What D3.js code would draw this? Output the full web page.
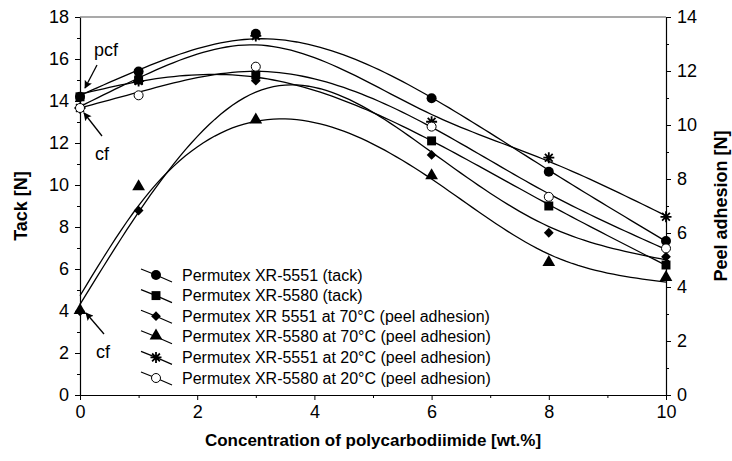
<!DOCTYPE html>
<html>
<head>
<meta charset="utf-8">
<script src="https://cdn.jsdelivr.net/npm/d3@7/dist/d3.min.js"></script>
<style>
html,body{margin:0;padding:0;background:#fff;}
svg{display:block;}
text{font-family:"Liberation Sans",Arial,sans-serif;fill:#000;}
</style>
</head>
<body>
<svg id="chart" width="732" height="461"></svg>
<script>
// ---- data ----
const concentrations = [0, 1, 3, 6, 8, 10];
const tack5551 = [14.2, 15.4, 17.2, 14.13, 10.63, 7.33];
const tack5580 = [14.2, 15.0, 15.24, 12.1, 9.0, 6.19];
const peel5551at70 = [3.1, 6.83, 11.64, 8.89, 6.01, 5.12];
const peel5580at70 = [3.1, 7.68, 10.15, 8.09, 4.88, 4.32];
const peel5551at20 = [10.63, 11.63, 13.3, 10.12, 8.79, 6.6];
const peel5580at20 = [10.63, 11.1, 12.16, 9.94, 7.34, 5.43];
const seriesNames = [
  "Permutex XR-5551 (tack)",
  "Permutex XR-5580 (tack)",
  "Permutex XR 5551 at 70°C (peel adhesion)",
  "Permutex XR-5580 at 70°C (peel adhesion)",
  "Permutex XR-5551 at 20°C (peel adhesion)",
  "Permutex XR-5580 at 20°C (peel adhesion)"
];
const xTicks = [0, 2, 4, 6, 8, 10];
const leftTicks = [0, 2, 4, 6, 8, 10, 12, 14, 16, 18];
const rightTicks = [0, 2, 4, 6, 8, 10, 12, 14];
const xTitle = "Concentration of polycarbodiimide [wt.%]";
const leftTitle = "Tack [N]";
const rightTitle = "Peel adhesion [N]";

const svg = d3.select("#chart");
const L = 80, R = 666, T = 17, B = 395;
const x = d3.scaleLinear().domain([0, 10]).range([L, R]);
const yL = d3.scaleLinear().domain([0, 18]).range([B, T]);
const yR = d3.scaleLinear().domain([0, 14]).range([B, T]);

const series = [
  {vals: tack5551, axis: yL, sym: "circle"},
  {vals: tack5580, axis: yL, sym: "square"},
  {vals: peel5551at70, axis: yR, sym: "diamond"},
  {vals: peel5580at70, axis: yR, sym: "triangle"},
  {vals: peel5551at20, axis: yR, sym: "star"},
  {vals: peel5580at20, axis: yR, sym: "open"}
];

// ---- cubic smoothing spline (Reinsch) ----
function solve(A, b) {
  const n = b.length;
  const M = A.map((r, i) => r.concat([b[i]]));
  for (let i = 0; i < n; i++) {
    let p = i;
    for (let r = i + 1; r < n; r++) if (Math.abs(M[r][i]) > Math.abs(M[p][i])) p = r;
    [M[i], M[p]] = [M[p], M[i]];
    for (let r = 0; r < n; r++) {
      if (r === i) continue;
      const f = M[r][i] / M[i][i];
      for (let c = i; c <= n; c++) M[r][c] -= f * M[i][c];
    }
  }
  return M.map((r, i) => r[n] / r[i]);
}
function smoothSpline(xs, ys, lambda) {
  const n = xs.length, m = n - 2;
  const h = d3.range(n - 1).map(i => xs[i + 1] - xs[i]);
  const Q = Array.from({length: n}, () => new Array(m).fill(0));
  const Rm = Array.from({length: m}, () => new Array(m).fill(0));
  for (let j = 1; j <= n - 2; j++) {
    const c = j - 1;
    Q[j - 1][c] = 1 / h[j - 1];
    Q[j][c] = -1 / h[j - 1] - 1 / h[j];
    Q[j + 1][c] = 1 / h[j];
    Rm[c][c] = (h[j - 1] + h[j]) / 3;
    if (c + 1 < m) { Rm[c][c + 1] = h[j] / 6; Rm[c + 1][c] = h[j] / 6; }
  }
  const A = Rm.map((row, i) => row.map((v, j) => {
    let s = 0;
    for (let k = 0; k < n; k++) s += Q[k][i] * Q[k][j];
    return v + lambda * s;
  }));
  const rhs = d3.range(m).map(i => d3.sum(d3.range(n), k => Q[k][i] * ys[k]));
  const gam = solve(A, rhs);
  const g = ys.map((y, k) => y - lambda * d3.sum(d3.range(m), i => Q[k][i] * gam[i]));
  const G = [0].concat(gam, [0]);
  return t => {
    let i = 0;
    while (i < n - 2 && t > xs[i + 1]) i++;
    const hi = h[i], a = t - xs[i], b = xs[i + 1] - t;
    return (b * g[i] + a * g[i + 1]) / hi
      - a * b / 6 * ((1 + a / hi) * G[i + 1] + (1 + b / hi) * G[i]);
  };
}

// ---- axes ----
function styleAxis(g) {
  g.select(".domain").attr("stroke", "#000").attr("stroke-width", 1.2);
  g.selectAll(".tick line").attr("stroke", "#000").attr("stroke-width", 1);
  g.selectAll(".tick text").style("font-size", "18px").style("font-family", "Liberation Sans, Arial, sans-serif");
}
const minorX = [1, 3, 5, 7, 9];
const minorL = [1, 3, 5, 7, 9, 11, 13, 15, 17];
const minorR = [1, 3, 5, 7, 9, 11, 13];

svg.append("g").attr("transform", `translate(0,${B})`)
  .call(d3.axisBottom(x).tickValues(minorX).tickSize(3).tickFormat(""))
  .call(g => g.select(".domain").remove()).call(styleAxis);
svg.append("g").attr("transform", `translate(${L},0)`)
  .call(d3.axisLeft(yL).tickValues(minorL).tickSize(3).tickFormat(""))
  .call(g => g.select(".domain").remove()).call(styleAxis);
svg.append("g").attr("transform", `translate(${R},0)`)
  .call(d3.axisRight(yR).tickValues(minorR).tickSize(3).tickFormat(""))
  .call(g => g.select(".domain").remove()).call(styleAxis);

svg.append("g").attr("transform", `translate(0,${B})`)
  .call(d3.axisBottom(x).tickValues(xTicks).tickSize(5).tickSizeOuter(0).tickPadding(5).tickFormat(d3.format("d")))
  .call(styleAxis);
svg.append("g").attr("transform", `translate(${L},0)`)
  .call(d3.axisLeft(yL).tickValues(leftTicks).tickSize(5).tickSizeOuter(0).tickPadding(6).tickFormat(d3.format("d")))
  .call(styleAxis);
svg.append("g").attr("transform", `translate(${R},0)`)
  .call(d3.axisRight(yR).tickValues(rightTicks).tickSize(5).tickSizeOuter(0).tickPadding(6).tickFormat(d3.format("d")))
  .call(styleAxis);
svg.append("line").attr("x1", L).attr("x2", R).attr("y1", T).attr("y2", T)
  .attr("stroke", "#555").attr("stroke-width", 1.2);

// ---- titles ----
svg.append("text").attr("x", (L + R) / 2).attr("y", 446).attr("text-anchor", "middle")
  .style("font-size", "17px").style("font-weight", "bold").text(xTitle);
svg.append("text").attr("transform", `translate(27,${(T + B) / 2}) rotate(-90)`).attr("text-anchor", "middle")
  .style("font-size", "18px").style("font-weight", "bold").text(leftTitle);
svg.append("text").attr("transform", `translate(714,${(T + B) / 2}) rotate(-90)`).attr("text-anchor", "middle")
  .attr("dy", "0.72em")
  .style("font-size", "18px").style("font-weight", "bold").text(rightTitle);

// ---- curves ----
const lambda = 0.4;
const line = d3.line().x(d => d[0]).y(d => d[1]);
const sampleT = d3.range(0, 10.0001, 0.1);
series.forEach(s => {
  const f = smoothSpline(concentrations, s.vals, lambda);
  const pts = sampleT.map(t => [x(t), s.axis(f(t))]);
  svg.append("path").attr("d", line(pts)).attr("fill", "none").attr("stroke", "#000").attr("stroke-width", 1.3);
});

// ---- markers ----
function drawMarker(g, sym, cx, cy) {
  if (sym === "circle") g.append("circle").attr("cx", cx).attr("cy", cy).attr("r", 5).attr("fill", "#000");
  else if (sym === "open") g.append("circle").attr("cx", cx).attr("cy", cy).attr("r", 4.5).attr("fill", "#fff").attr("stroke", "#000").attr("stroke-width", 1);
  else if (sym === "square") g.append("path").attr("transform", `translate(${cx},${cy})`).attr("d", d3.symbol(d3.symbolSquare, 80)()).attr("fill", "#000");
  else if (sym === "diamond") g.append("path").attr("transform", `translate(${cx},${cy}) rotate(45)`).attr("d", d3.symbol(d3.symbolSquare, 48)()).attr("fill", "#000");
  else if (sym === "triangle") g.append("path").attr("transform", `translate(${cx},${cy - 1})`).attr("d", d3.symbol(d3.symbolTriangle, 70)()).attr("fill", "#000");
  else if (sym === "star") {
    const r = 5.5;
    let d = "";
    for (let a = 0; a < 4; a++) {
      const ang = a * Math.PI / 4;
      d += `M${cx - r * Math.cos(ang)},${cy - r * Math.sin(ang)}L${cx + r * Math.cos(ang)},${cy + r * Math.sin(ang)}`;
    }
    g.append("path").attr("d", d).attr("stroke", "#000").attr("stroke-width", 1.8);
  }
}
const mg = svg.append("g");
series.forEach(s => {
  concentrations.forEach((c, i) => drawMarker(mg, s.sym, x(c), s.axis(s.vals[i])));
});

// ---- legend ----
const lg = svg.append("g");
seriesNames.forEach((name, i) => {
  const cy = 275 + i * 20.6;
  lg.append("path").attr("d", `M141,${cy - 6}L156,${cy}L172,${cy + 7}`).attr("fill", "none").attr("stroke", "#000").attr("stroke-width", 1.2);
  drawMarker(lg, series[i].sym, 156, cy);
  lg.append("text").attr("x", 182).attr("y", cy).attr("dy", "0.35em").style("font-size", "16px").text(name);
});

// ---- annotations ----
const defs = svg.append("defs");
defs.append("marker").attr("id", "ah").attr("viewBox", "0 0 10 10").attr("refX", 9).attr("refY", 5)
  .attr("markerWidth", 11).attr("markerHeight", 8).attr("markerUnits", "userSpaceOnUse").attr("orient", "auto")
  .append("path").attr("d", "M0,0L10,5L0,10L2,5Z").attr("fill", "#000");
function arrow(x1, y1, x2, y2) {
  svg.append("line").attr("x1", x1).attr("y1", y1).attr("x2", x2).attr("y2", y2)
    .attr("stroke", "#000").attr("stroke-width", 1.3).attr("marker-end", "url(#ah)");
}
svg.append("text").attr("x", 94).attr("y", 56).style("font-size", "18px").text("pcf");
arrow(97, 65, 85, 88);
svg.append("text").attr("x", 95).attr("y", 160).style("font-size", "18px").text("cf");
arrow(102, 136, 84, 113);
svg.append("text").attr("x", 96).attr("y", 358).style("font-size", "18px").text("cf");
arrow(104, 334, 86, 313);
</script>
</body>
</html>
